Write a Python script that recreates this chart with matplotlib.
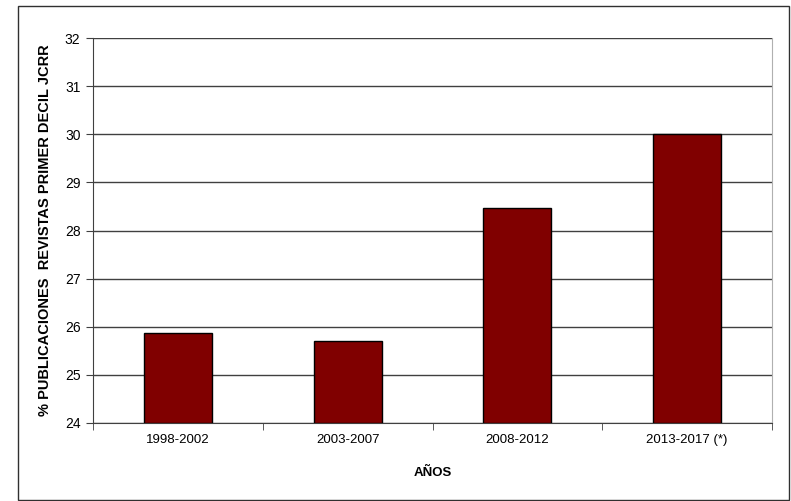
import numpy as np
import matplotlib.pyplot as plt
from matplotlib.patches import Rectangle

plt.rcParams['font.family'] = ['Liberation Sans', 'DejaVu Sans']

# datos del grafico
periodos = ["1998-2002", "2003-2007", "2008-2012", "2013-2017 (*)"]
porcentajes = [25.86, 25.70, 28.46, 30.0]
y_ticks = [24, 25, 26, 27, 28, 29, 30, 31, 32]

fig = plt.figure(figsize=(7.91, 5.01), dpi=100)
W, H = 791, 501
ax = fig.add_axes([93 / W, 1 - 423 / H, (772 - 93) / W, (423 - 38) / H])

# marco exterior de la figura
fig.patches.append(Rectangle((18 / W, 0.002), (789 - 18) / W, (494 - 0) / H,
                             transform=fig.transFigure, fill=False,
                             edgecolor="#303030", linewidth=1.0))

x = np.arange(len(periodos))
ax.bar(x, np.array(porcentajes) - 24, bottom=24, width=0.4,
       color="#800000", edgecolor="black", linewidth=1.0, zorder=3)

ax.set_xlim(-0.5, len(periodos) - 0.5)
ax.set_ylim(24, 32)
ax.set_yticks(y_ticks)
ax.yaxis.grid(True, color="#404040", linewidth=1.0, zorder=0)
ax.set_axisbelow(True)

ax.set_xticks(x)
ax.set_xticklabels(periodos, fontsize=9.5)
ax.set_xticks(np.arange(len(periodos) + 1) - 0.5, minor=True)
ax.tick_params(axis="x", which="major", length=0, pad=8)
ax.tick_params(axis="x", which="minor", length=5, color="#404040", direction="out")
ax.tick_params(axis="y", length=5, color="#404040", labelsize=10, pad=4)

for s in ["left", "bottom"]:
    ax.spines[s].set_color("#404040")
ax.spines["top"].set_visible(False)
ax.spines["right"].set_color("#b0b0b0")

ax.set_xlabel("AÑOS", fontsize=9.5, fontweight="bold", labelpad=15)
ax.set_ylabel("% PUBLICACIONES  REVISTAS PRIMER DECIL JCRR", fontsize=10.5,
              fontweight="bold", labelpad=9)

fig.savefig("out.png", dpi=100)
